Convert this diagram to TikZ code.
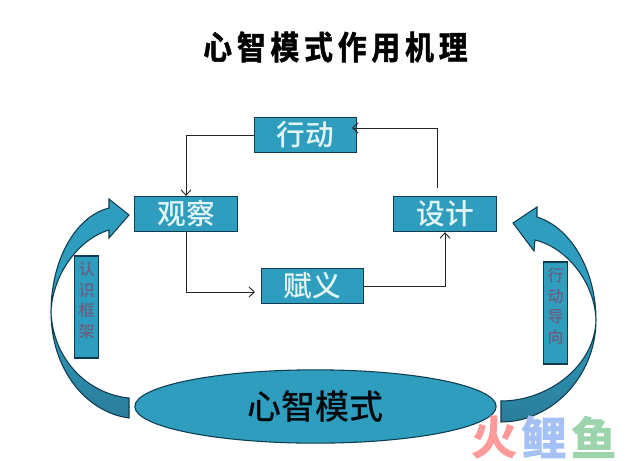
\documentclass[tikz,border=0pt]{standalone}
\usepackage{fontspec}
\setmainfont{Noto Sans CJK SC Medium}
\newfontfamily\titlefont[LetterSpace=15,FakeStretch=0.88,FakeBold=1.5]{Noto Sans CJK SC Bold}
\newfontfamily\logofont[FakeBold=2]{Noto Sans CJK SC Bold}
\usetikzlibrary{positioning}
\usetikzlibrary{shapes.geometric}
\usetikzlibrary{arrows.meta}
\definecolor{boxblue}{HTML}{2E9DBE}
\definecolor{darkblue}{HTML}{2B7C9B}
\definecolor{edgeblue}{HTML}{0F3C50}
\definecolor{boxtext}{HTML}{E2F5F6}
\definecolor{tabtext}{HTML}{6A5F80}
\definecolor{logored}{HTML}{FF9A9A}
\definecolor{logoblue}{HTML}{A4C0F5}
\definecolor{logogreen}{HTML}{9CD4AC}
\tikzset{
	stagebox/.style={draw=edgeblue, thick, fill=boxblue, text=boxtext, minimum width=77pt, minimum height=26.5pt, inner sep=0pt, font=\fontsize{21.5}{24}\selectfont},
	tabbox/.style={draw=edgeblue, thick, fill=boxblue, text=tabtext, minimum width=17.5pt, minimum height=76.5pt, inner sep=0pt, align=center, text depth=11pt, font=\fontsize{12}{15.5}\selectfont},
	link/.style={draw=black!85, line width=0.7pt, -{Straight Barb[length=4pt,width=7.5pt]}},
	bendarrow/.style={draw=edgeblue, thick, top color=boxblue, bottom color=darkblue, middle color=boxblue},
	logotext/.style={inner sep=0pt, font=\logofont\fontsize{34}{36}\selectfont}
}
\begin{document}
\begin{tikzpicture}[x=0.75pt, y=-0.75pt]
	\useasboundingbox (0,0) rectangle (640,461);

	%the title
	\node[anchor=west, inner sep=0pt, font=\titlefont\fontsize{24.5}{28}\selectfont] (title) at (203,47) {心智模式作用机理};

	%the four stages, XD = act, GC = observe, FY = assign, SJ = design
	\node[stagebox] (XD) at (305.5,135) {行动};
	\node[stagebox] (GC) at (186,214) {观察};
	\node[stagebox] (SJ) at (445,214) {设计};
	\node[stagebox] (FY) at (312.5,286) {赋义};

	%the base ellipse
	\node[ellipse, draw=edgeblue, thick, fill=boxblue, text=black!85!edgeblue, minimum width=271pt, minimum height=55pt, inner sep=0pt, font=\fontsize{25.5}{28}\selectfont] (MM) at (315.5,406.5) {心智模式};

	%free ends that do not sit on an anchor
	\coordinate (SJtop) at (437,188);
	\coordinate (XDin) at (352,128);
	\coordinate (FYin) at (255,292);

	%draw links
	\draw[link] (XD.west) -| (GC.north);
	\draw[link] (GC.south) |- (FYin);
	\draw[link] (FY.east) -| (SJ.south);
	\draw[link] (SJtop) |- (XDin);

	%left curved arrow
	\path[bendarrow] (129,215) -- (109,199) -- (109,208)
		.. controls (74,217) and (51,262) .. (51,312)
		.. controls (51,368) and (85,412) .. (129,418)
		-- (129,398)
		.. controls (88,394) and (53,360) .. (51,312)
		.. controls (52,278) and (76,240) .. (109,230)
		-- (109,238) -- cycle;

	%right curved arrow
	\path[bendarrow] (513,223) -- (537,207) -- (537,217)
		.. controls (572,228) and (596,272) .. (596,320)
		.. controls (596,376) and (552,422) .. (501,422)
		-- (501,401)
		.. controls (548,401) and (595,366) .. (596,320)
		.. controls (595,284) and (568,248) .. (535,240)
		-- (534,251) -- cycle;

	%the side labels
	\node[tabbox] (RK) at (86.5,307) {认\\识\\框\\架};
	\node[tabbox] (XX) at (555.5,313) {行\\动\\导\\向};

	%colored logo in the corner
	\node[logotext, text=logored] (logoA) at (494,437) {火};
	\node[logotext, text=logoblue, right=3pt of logoA] (logoB) {鲤};
	\node[logotext, text=logogreen, right=3pt of logoB] (logoC) {鱼};
\end{tikzpicture}
\end{document}
